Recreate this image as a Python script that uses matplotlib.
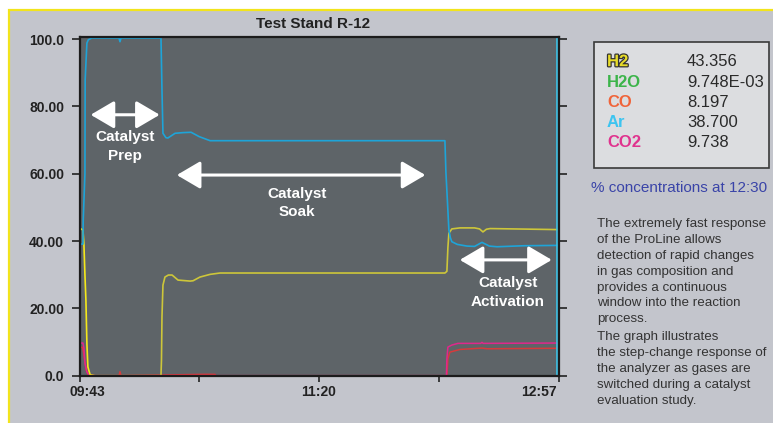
import matplotlib
matplotlib.use('Agg')
import matplotlib.pyplot as plt
import matplotlib.transforms as mtransforms
from matplotlib.patches import Rectangle, FancyArrowPatch
import matplotlib.patheffects as pe

plt.rcParams['font.family'] = ['Liberation Sans', 'DejaVu Sans']

# time axis in minutes after 09:43
tick_pos = [0, 48.5, 97, 145.5, 194]
tick_lbl = ['09:43', '', '11:20', '', '12:57']
ytick_pos = [0, 20, 40, 60, 80, 100]
ytick_lbl = ['0.0', '20.00', '40.00', '60.00', '80.00', '100.0']

# Ar trace
ar_t = [0.2, 1.4, 1.5, 2.2, 2.3, 3.0, 3.6, 5.0, 16.0, 16.4, 16.8, 33.0, 33.4, 33.8, 35.0,
        35.8, 38.7, 42.0, 45.2, 48.5, 52.9, 148.0, 148.4, 149.0, 149.6, 150.2, 150.8,
        153.0, 156.9, 160.0, 163.0, 166.0, 169.1, 180.0, 193.4]
ar_v = [39.1, 39.1, 46.0, 60.0, 88.0, 98.8, 99.8, 100.3, 100.3, 99.2, 100.3, 100.3, 85.0,
        72.0, 70.7, 70.6, 72.0, 72.2, 72.3, 71.0, 69.8, 69.8, 60.5, 52.0, 43.3, 41.0, 39.8,
        39.0, 38.5, 38.4, 39.6, 38.5, 38.3, 38.6, 38.7]

# H2 trace (first points drawn brighter)
h2_t = [0.0, 1.4, 1.8, 2.2, 2.6, 3.0, 3.4, 4.3, 6.0, 33.0, 33.2, 33.4, 33.8, 34.6, 36.0,
        37.5, 39.9, 44.8, 46.0, 48.8, 52.9, 56.9, 148.0, 148.8, 149.2, 149.6, 150.8, 154.1,
        160.0, 162.0, 163.4, 164.8, 166.3, 193.4]
h2_v = [43.8, 43.3, 38.8, 30.0, 22.4, 9.4, 2.6, 0.3, 0.0, 0.0, 4.6, 17.4, 26.9, 29.3, 29.9,
        29.9, 28.4, 28.1, 28.2, 29.3, 30.1, 30.5, 30.5, 31.0, 38.0, 42.3, 43.6, 43.9,
        43.9, 43.6, 42.7, 43.5, 43.7, 43.4]
h2_bright = 9

# CO2 trace
co2_t = [0.0, 1.4, 1.8, 2.2, 3.0, 3.8, 6.3, 148.6, 148.8, 149.2, 150.8, 153.3, 162.5, 163.0,
         163.5, 193.4]
co2_v = [9.7, 9.7, 8.2, 3.8, 1.1, 0.2, 0.0, 0.0, 5.0, 8.5, 9.1, 9.6, 9.6, 9.9, 9.6, 9.7]

# CO trace
co_t = [0.0, 1.2, 1.6, 2.2, 2.8, 3.6, 6.0, 16.0, 16.4, 16.8, 50.0, 54.9, 55.2, 148.8, 149.2,
        150.0, 154.1, 163.0, 165.0, 193.4]
co_v = [8.5, 8.4, 7.0, 4.0, 1.5, 0.3, 0.0, 0.0, 1.2, 0.0, 0.4, 0.4, 0.0, 0.0, 5.0, 7.0,
        7.8, 8.2, 8.0, 8.15]

# H2O trace (sits on the baseline)
h2o_t = [0.0, 193.4]
h2o_v = [0.01, 0.01]

# readout box
gas_names = ['H2', 'H2O', 'CO', 'Ar', 'CO2']
gas_values = ['43.356', '9.748E-03', '8.197', '38.700', '9.738']
gas_colors = ['#e8dc2a', '#3cb44a', '#f0643a', '#3cc4f0', '#e0338e']

para1 = ['The extremely fast response', 'of the ProLine allows', 'detection of rapid changes',
         'in gas composition and', 'provides a continuous', 'window into the reaction',
         'process.']
para2 = ['The graph illustrates', 'the step-change response of',
         'the analyzer as gases are', 'switched during a catalyst', 'evaluation study.']

W, H = 773, 423
fig = plt.figure(figsize=(W / 100, H / 100), dpi=100, facecolor='white')

def fx(px):
    return px / W

def fy(py):
    return 1 - py / H

# grey panel with yellow border
fig.patches.append(Rectangle((fx(9), -0.02), 1.05, fy(10) + 0.02, transform=fig.transFigure,
                             facecolor='#c3c5cc', edgecolor='#f2e41c', lw=1.6, zorder=-5))

ax = fig.add_axes([fx(79.5), fy(375.7), fx(558.5) - fx(79.5), fy(37) - fy(375.7)])
ax.set_zorder(2)
ax.set_facecolor('#5e6468')
ax.set_xlim(0, 194)
ax.set_ylim(0, 100.6)

ax.plot(h2o_t, h2o_v, color='#3cb44a', lw=1.1)
ax.plot(co_t, co_v, color='#d63a3c', lw=1.1)
ax.plot(co2_t, co2_v, color='#e0288c', lw=1.1)
ax.plot(h2_t[h2_bright - 1:], h2_v[h2_bright - 1:], color='#cdc63a', lw=1.2)
ax.plot(h2_t[:h2_bright], h2_v[:h2_bright], color='#f4e81a', lw=1.2)
ax.plot(ar_t, ar_v, color='#1ea4d8', lw=1.2)
ax.axvline(ar_t[-1], color='#3ac4e8', lw=1.2)

for s in ax.spines.values():
    s.set_color('#1c1c1c')
    s.set_linewidth(1.6)

ax.set_xticks(tick_pos)
ax.set_xticklabels(tick_lbl)
ax.set_yticks(ytick_pos)
ax.set_yticklabels(ytick_lbl)
ax.tick_params(axis='y', direction='out', length=6, width=1.2, pad=5, right=True,
               labelsize=10, colors='#222222')
ax.tick_params(axis='x', direction='out', length=4.5, width=1.2, pad=2, labelsize=10,
               colors='#222222')
for lbl in ax.get_xticklabels() + ax.get_yticklabels():
    lbl.set_fontweight('bold')
xl = ax.get_xticklabels()
xl[0].set_transform(xl[0].get_transform() + mtransforms.ScaledTranslation(0.08, 0, fig.dpi_scale_trans))
xl[-1].set_transform(xl[-1].get_transform() + mtransforms.ScaledTranslation(-0.20, 0, fig.dpi_scale_trans))

# phase arrows and labels
def span(x0, x1, y):
    a = FancyArrowPatch((x0, y), (x1, y), arrowstyle='<|-|>,head_length=0.85,head_width=0.5',
                        mutation_scale=17, color='white', lw=2.2, zorder=5)
    ax.add_patch(a)

span(3.4, 33.6, 77.5)
ax.text(18.4, 68.2, 'Catalyst\nPrep', color='white', fontsize=11, fontweight='bold',
        ha='center', va='center', linespacing=1.45)
span(38.3, 141.2, 59.6)
ax.text(88.1, 51.3, 'Catalyst\nSoak', color='white', fontsize=11, fontweight='bold',
        ha='center', va='center', linespacing=1.45)
span(152.9, 192.4, 34.4)
ax.text(173.5, 24.6, 'Catalyst\nActivation', color='white', fontsize=11, fontweight='bold',
        ha='center', va='center', linespacing=1.45)

fig.text(fx(313), fy(24), 'Test Stand R-12', fontsize=11, fontweight='bold', color='#222222',
         ha='center', va='center')

# readout box
fig.patches.append(Rectangle((fx(594), fy(168)), fx(769) - fx(594), fy(42) - fy(168),
                             transform=fig.transFigure, facecolor='#dcdde0',
                             edgecolor='#3a3a3a', lw=1.2, zorder=1))
for i, (n, v, c) in enumerate(zip(gas_names, gas_values, gas_colors)):
    yy = fy(61.7 + i * 20.3)
    t = fig.text(fx(607), yy, n, color=c, fontsize=12, fontweight='bold', va='center')
    if n == 'H2':
        t.set_path_effects([pe.withStroke(linewidth=1.8, foreground='#333333')])
    fig.text(fx(687), yy, v, color='#2a2a2a', fontsize=12, va='center')

fig.text(fx(591), fy(188), '% concentrations at 12:30', color='#3a44a8', fontsize=11,
         va='center')

for i, line in enumerate(para1):
    fig.text(fx(597), fy(224.3 + i * 15.8), line, color='#333333', fontsize=9.6, va='center')
for i, line in enumerate(para2):
    fig.text(fx(597), fy(336.7 + i * 15.95), line, color='#333333', fontsize=9.6, va='center')

fig.savefig('out.png', dpi=100, facecolor=fig.get_facecolor())
